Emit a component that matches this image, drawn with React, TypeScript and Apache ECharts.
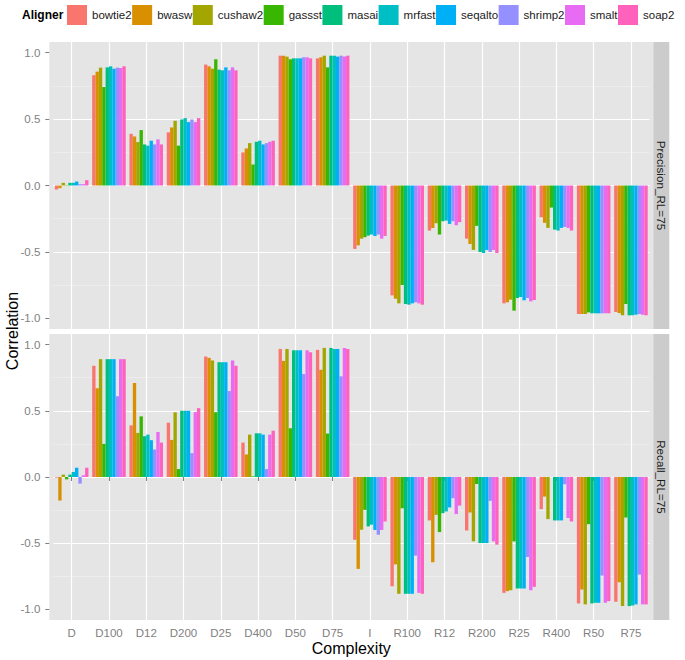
import React, { useEffect, useRef } from "react";
import * as echarts from "echarts";

const categories = ["D", "D100", "D12", "D200", "D25", "D400", "D50", "D75", "I", "R100", "R12", "R200", "R25", "R400", "R50", "R75"];
const aligners = ["bowtie2", "bwasw", "cushaw2", "gassst", "masai", "mrfast", "seqalto", "shrimp2", "smalt", "soap2"];
const alignerColors = ["#F8766D", "#D89000", "#A3A500", "#39B600", "#00BF7D", "#00BFC4", "#00B0F6", "#9590FF", "#E76BF3", "#FF62BC"];
const facetLabels = ["Precision_RL=75", "Recall_RL=75"];
const yTicks = [-1, -0.5, 0, 0.5, 1];

// rows = categories, columns = aligners (same order as above)
const precisionByCategory = [
  [-0.03, -0.02, 0.02, 0.003, 0.02, 0.02, 0.03, 0.01, 0.01, 0.04],
  [0.83, 0.857, 0.887, 0.741, 0.889, 0.897, 0.879, 0.887, 0.884, 0.897],
  [0.389, 0.369, 0.327, 0.417, 0.309, 0.3, 0.337, 0.309, 0.347, 0.309],
  [0.4, 0.437, 0.487, 0.3, 0.497, 0.507, 0.477, 0.497, 0.477, 0.507],
  [0.91, 0.897, 0.879, 0.95, 0.872, 0.867, 0.889, 0.867, 0.889, 0.867],
  [0.249, 0.279, 0.319, 0.158, 0.329, 0.337, 0.309, 0.319, 0.329, 0.337],
  [0.977, 0.977, 0.97, 0.95, 0.957, 0.957, 0.957, 0.965, 0.965, 0.957],
  [0.957, 0.965, 0.977, 0.889, 0.977, 0.977, 0.97, 0.977, 0.97, 0.977],
  [-0.477, -0.45, -0.4, -0.389, -0.377, -0.369, -0.38, -0.369, -0.4, -0.38],
  [-0.827, -0.852, -0.887, -0.749, -0.892, -0.897, -0.887, -0.879, -0.887, -0.897],
  [-0.339, -0.32, -0.284, -0.369, -0.269, -0.264, -0.289, -0.269, -0.299, -0.276],
  [-0.4, -0.44, -0.485, -0.304, -0.5, -0.508, -0.485, -0.5, -0.485, -0.508],
  [-0.887, -0.879, -0.859, -0.942, -0.847, -0.839, -0.864, -0.847, -0.872, -0.862],
  [-0.239, -0.281, -0.319, -0.166, -0.332, -0.339, -0.319, -0.312, -0.319, -0.339],
  [-0.967, -0.967, -0.967, -0.955, -0.962, -0.962, -0.962, -0.962, -0.962, -0.962],
  [-0.952, -0.96, -0.977, -0.892, -0.977, -0.977, -0.972, -0.967, -0.972, -0.977],
];

const recallByCategory = [
  [-0.005, -0.178, 0.018, -0.018, 0.018, 0.038, 0.07, -0.05, 0.013, 0.07],
  [0.84, 0.67, 0.89, 0.25, 0.89, 0.89, 0.89, 0.61, 0.89, 0.89],
  [0.39, 0.71, 0.333, 0.458, 0.308, 0.32, 0.278, 0.208, 0.34, 0.26],
  [0.41, 0.28, 0.489, 0.06, 0.5, 0.5, 0.5, 0.18, 0.49, 0.52],
  [0.91, 0.9, 0.88, 0.489, 0.867, 0.867, 0.867, 0.649, 0.88, 0.84],
  [0.26, 0.17, 0.32, 0.005, 0.33, 0.33, 0.32, 0.06, 0.32, 0.35],
  [0.967, 0.877, 0.967, 0.368, 0.957, 0.957, 0.957, 0.777, 0.957, 0.942],
  [0.96, 0.81, 0.975, 0.328, 0.975, 0.967, 0.967, 0.76, 0.975, 0.967],
  [-0.474, -0.694, -0.398, -0.248, -0.373, -0.36, -0.4, -0.436, -0.4, -0.336],
  [-0.825, -0.66, -0.882, -0.236, -0.882, -0.882, -0.882, -0.594, -0.875, -0.882],
  [-0.328, -0.644, -0.286, -0.416, -0.273, -0.26, -0.23, -0.16, -0.28, -0.216],
  [-0.404, -0.268, -0.486, -0.053, -0.499, -0.499, -0.499, -0.18, -0.486, -0.511],
  [-0.875, -0.862, -0.855, -0.486, -0.842, -0.842, -0.842, -0.604, -0.855, -0.83],
  [-0.243, -0.148, -0.318, 0, -0.328, -0.328, -0.328, -0.055, -0.31, -0.336],
  [-0.955, -0.85, -0.962, -0.356, -0.955, -0.95, -0.95, -0.744, -0.95, -0.937],
  [-0.942, -0.795, -0.975, -0.306, -0.975, -0.97, -0.962, -0.737, -0.962, -0.962],
];

const FONT = "'Liberation Sans', Arial, Helvetica, sans-serif";
const PANEL_LEFT = 49.3;
const PANEL_RIGHT = 653.3;
const STRIP_W = 16;
const panels = [
  { top: 42, height: 287 },
  { top: 334, height: 286 },
];

function buildOption() {
  const facets = [precisionByCategory, recallByCategory];
  const band = (PANEL_RIGHT - PANEL_LEFT) / (categories.length + 0.2);
  const gridLeft = PANEL_LEFT + 0.1 * band;
  const gridWidth = categories.length * band;

  const grid = panels.map((p) => ({
    left: gridLeft,
    top: p.top,
    width: gridWidth,
    height: p.height,
    show: true,
    backgroundColor: "#E5E5E5",
    borderWidth: 0,
  }));

  const xAxis = panels.map((_, f) => ({
    type: "category",
    gridIndex: f,
    data: categories,
    axisLine: { show: false },
    axisTick: {
      show: f === 1,
      alignWithLabel: true,
      interval: 0,
      length: 4,
      lineStyle: { color: "#7F7F7F", width: 1 },
    },
    axisLabel: {
      show: f === 1,
      interval: 0,
      color: "#7F7F7F",
      fontSize: 11.5,
      fontFamily: FONT,
      margin: 7,
    },
    splitLine: {
      show: true,
      interval: 0,
      alignWithLabel: true,
      lineStyle: { color: "#FFFFFF", width: 1.2 },
    },
  }));

  const yAxis = panels.map((_, f) => ({
    type: "value",
    gridIndex: f,
    min: -1.08,
    max: 1.08,
    offset: gridLeft - PANEL_LEFT,
    axisLine: { show: false },
    axisTick: {
      show: true,
      customValues: yTicks,
      length: 4,
      lineStyle: { color: "#7F7F7F", width: 1 },
    },
    axisLabel: {
      customValues: yTicks,
      formatter: (v: number) => v.toFixed(1),
      color: "#7F7F7F",
      fontSize: 11.5,
      fontFamily: FONT,
      margin: 9,
    },
    splitLine: {
      show: true,
      showMinLine: false,
      showMaxLine: false,
      lineStyle: { color: "#FFFFFF", width: 1.2 },
    },
    minorTick: { show: false, splitNumber: 2 },
    minorSplitLine: { show: true, lineStyle: { color: "#F2F2F2", width: 0.6 } },
  }));

  const series = facets.flatMap((rows, f) =>
    aligners.map((name, k) => ({
      type: "bar",
      name,
      xAxisIndex: f,
      yAxisIndex: f,
      data: rows.map((r) => r[k]),
      barGap: "0%",
      barCategoryGap: "10%",
      itemStyle: { color: alignerColors[k] },
      emphasis: { disabled: true },
      silent: true,
    }))
  );

  const graphicEls: any[] = [];
  panels.forEach((p, f) => {
    graphicEls.push({
      type: "rect",
      z: -10,
      silent: true,
      shape: { x: PANEL_LEFT, y: p.top, width: PANEL_RIGHT - PANEL_LEFT, height: p.height },
      style: { fill: "#E5E5E5" },
    });
    graphicEls.push({
      type: "rect",
      silent: true,
      shape: { x: PANEL_RIGHT, y: p.top, width: STRIP_W, height: p.height },
      style: { fill: "#CCCCCC" },
    });
    graphicEls.push({
      type: "text",
      silent: true,
      x: PANEL_RIGHT + STRIP_W / 2,
      y: p.top + p.height / 2,
      rotation: -Math.PI / 2,
      style: {
        text: facetLabels[f],
        fill: "#1A1A1A",
        fontSize: 11.7,
        fontFamily: FONT,
        align: "center",
        verticalAlign: "middle",
      },
    });
  });
  graphicEls.push({
    type: "text",
    silent: true,
    x: 22,
    y: 15,
    style: {
      text: "Aligner",
      fill: "#000000",
      fontSize: 12,
      fontWeight: "bold",
      fontFamily: FONT,
      align: "left",
      verticalAlign: "middle",
    },
  });
  graphicEls.push({
    type: "text",
    silent: true,
    x: 12,
    y: 331,
    rotation: Math.PI / 2,
    style: {
      text: "Correlation",
      fill: "#000000",
      fontSize: 16,
      fontFamily: FONT,
      align: "center",
      verticalAlign: "middle",
    },
  });
  graphicEls.push({
    type: "text",
    silent: true,
    x: (PANEL_LEFT + PANEL_RIGHT) / 2,
    y: 648,
    style: {
      text: "Complexity",
      fill: "#000000",
      fontSize: 16,
      fontFamily: FONT,
      align: "center",
      verticalAlign: "middle",
    },
  });

  return {
    animation: false,
    backgroundColor: "#FFFFFF",
    textStyle: { fontFamily: FONT },
    legend: {
      data: aligners,
      left: 67,
      top: 5,
      width: 660,
      padding: 0,
      itemWidth: 20,
      itemHeight: 20,
      itemGap: 0.5,
      icon: "rect",
      selectedMode: false,
      textStyle: { fontSize: 11.5, color: "#1A1A1A", fontFamily: FONT },
    },
    grid,
    xAxis,
    yAxis,
    series,
    graphic: { elements: graphicEls },
  };
}

export default function App() {
  const ref = useRef<HTMLDivElement>(null);
  useEffect(() => {
    if (!ref.current) return;
    const chart = echarts.init(ref.current, undefined, { renderer: "svg" });
    chart.setOption(buildOption() as any);
    return () => chart.dispose();
  }, []);
  return (
    <div
      ref={ref}
      style={{ position: "absolute", left: 0, top: 0, width: 685, height: 660 }}
    />
  );
}
